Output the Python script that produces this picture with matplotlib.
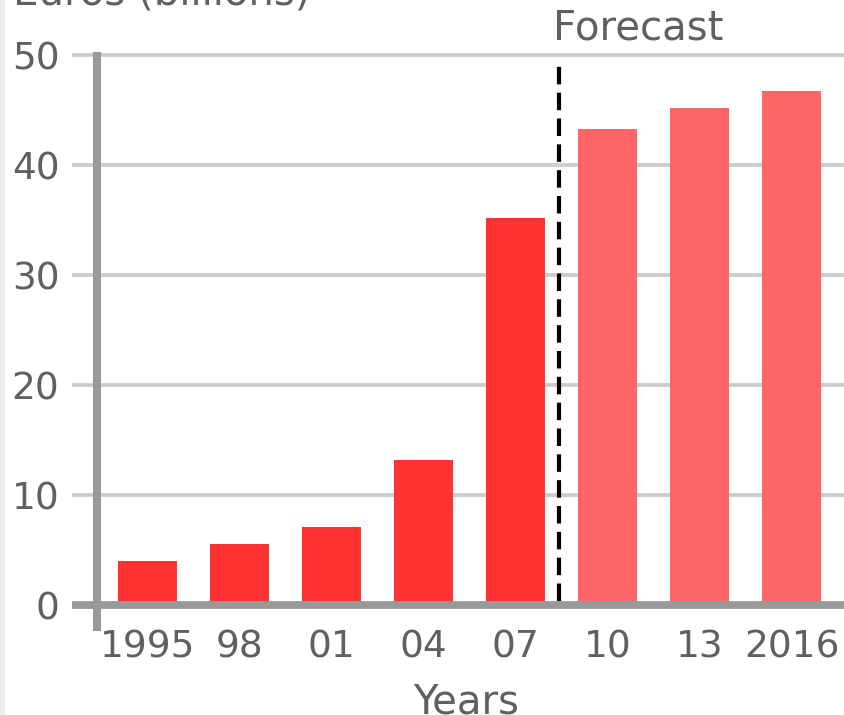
import matplotlib
matplotlib.use('Agg')
import matplotlib.pyplot as plt
from matplotlib.patches import Rectangle

years = ['1995', '98', '01', '04', '07', '10', '13', '2016']
values = [4.0, 5.55, 7.1, 13.2, 35.2, 43.3, 45.2, 46.7]
is_forecast = [False, False, False, False, False, True, True, True]
y_ticks = [0, 10, 20, 30, 40, 50]

W, H = 844, 715
GRAY_TXT = '#606060'

fig = plt.figure(figsize=(W / 100, H / 100), dpi=100)
fig.patches.append(Rectangle((0, 0), 5 / W, 1, transform=fig.transFigure,
                             facecolor='#ececec', edgecolor='none'))

# axes box: left spine at x=97px, zero line at y=605px, 50 line at y=55px
ax = fig.add_axes([97 / W, 1 - 605 / H, (W - 97) / W, (605 - 55) / H])
for s in ax.spines.values():
    s.set_visible(False)

x = list(range(len(years)))
x_left, x_right = -0.549, 7.57
ax.set_xlim(x_left, x_right)
ax.set_ylim(0, 50)

# gridlines start a bit left of the axis line
grid_start = -0.82
for t in y_ticks[1:]:
    ax.plot([grid_start, x_right], [t, t], color='#cccccc', lw=2.8,
            clip_on=False, zorder=1, solid_capstyle='butt')

colors = ['#ff6666' if f else '#ff3333' for f in is_forecast]
ax.bar(x, values, width=0.64, color=colors, zorder=2)

# forecast divider
ax.plot([4.47, 4.47], [0.4, 49.6], color='black', lw=3,
        linestyle=(0, (4.2, 2.0)), zorder=3)

# zero line and left axis line
ax.plot([grid_start, x_right], [0, 0], color='#999999', lw=5.6,
        clip_on=False, zorder=4, solid_capstyle='butt')
ax.plot([x_left, x_left], [-2.37, 50.3], color='#999999', lw=5.8,
        clip_on=False, zorder=4, solid_capstyle='butt')

ax.set_yticks(y_ticks)
ax.set_yticklabels([str(t) for t in y_ticks])
ax.set_xticks(x)
ax.set_xticklabels(years)
ax.tick_params(axis='both', length=0, labelsize=27, labelcolor=GRAY_TXT)
ax.tick_params(axis='y', pad=27)
ax.tick_params(axis='x', pad=18)

fig.text(466 / W, 1 - 713 / H, 'Years', ha='center', va='baseline',
         fontsize=29, color=GRAY_TXT)
fig.text(553 / W, 1 - 40 / H, 'Forecast', ha='left', va='baseline',
         fontsize=29, color=GRAY_TXT)
fig.text(13 / W, 1 - 4 / H, 'Euros (billions)', ha='left', va='baseline',
         fontsize=29, color=GRAY_TXT)

fig.savefig('out.png', dpi=100)
